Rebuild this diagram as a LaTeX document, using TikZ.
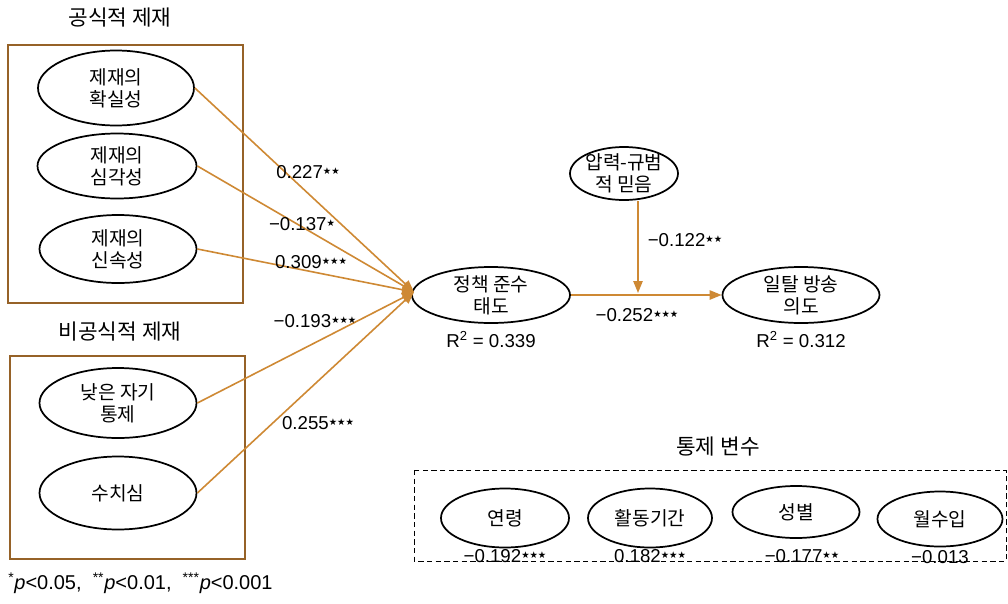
\documentclass[tikz,border=0pt]{standalone}
\usepackage{fontspec}
\setmainfont{Liberation Sans}
\newfontfamily\kr{Noto Sans CJK KR}
\newfontfamily\dv{DejaVu Sans}
\newcommand{\sg}{\raisebox{2.6pt}{\dv\fontsize{7}{7}\selectfont ★}}
\usetikzlibrary{shapes.geometric,arrows.meta}
\definecolor{arr}{RGB}{206,137,52}
\definecolor{frm}{RGB}{150,98,40}
\begin{document}
\begin{tikzpicture}[x=0.75pt,y=-0.75pt,
  ov/.style 2 args={ellipse, draw=black, line width=1.3pt, minimum width=#1*0.75pt, minimum height=#2*0.75pt, inner sep=0pt},
  kt/.style={font=\kr\fontsize{14.4}{16.5}\selectfont, align=center, inner sep=0pt},
  tt/.style={font=\kr\fontsize{16}{18}\selectfont, inner sep=0pt},
  num/.style={font=\fontsize{14}{16}\selectfont, inner sep=0pt},
  frame/.style={draw=frm, line width=1.5pt},
  path/.style={draw=arr, line width=1.2pt, -{Triangle[length=9pt,width=7pt]}},
  ctrl/.style={draw=black, line width=0.7pt, dash pattern=on 4pt off 2.5pt}]
\useasboundingbox (0,0) rectangle (1008,604);

% titles
\node[tt] (t1) at (120,18) {공식적 제재};
\node[tt] (t2) at (120,332) {비공식적 제재};
\node[tt] (t3) at (718,447) {통제 변수};

% frames
\draw[frame] (8,45) rectangle (243,303);
\draw[frame] (10,356) rectangle (245,559);
\draw[ctrl] (414,470) rectangle (1006,561);

% formal sanctions
\node[ov={156}{75}, label={[kt]center:제재의\\확실성}] (e1) at (116,88) {};
\node[ov={159}{65}, label={[kt]center:제재의\\심각성}] (e2) at (117,166) {};
\node[ov={157}{68}, label={[kt]center:제재의\\신속성}] (e3) at (118,249) {};
% informal sanctions
\node[ov={157}{70}, label={[kt]center:낮은 자기\\통제}] (e4) at (118,403) {};
\node[ov={157}{73}, label={[kt]center:수치심}] (e5) at (118,493) {};

% main constructs
\node[ov={158}{56}, label={[kt]center:정책 준수\\태도}] (P) at (491,295) {};
\node[ov={108}{53}, label={[kt]center:압력-규범\\적 믿음}] (M) at (624,173.5) {};
\node[ov={157}{56}, label={[kt]center:일탈 방송\\의도}] (D) at (801,295) {};

% controls
\node[ov={128}{59}, label={[kt]center:연령}] (c1) at (505,518) {};
\node[ov={124}{59}, label={[kt]center:활동기간}] (c2) at (650,518) {};
\node[ov={127}{52}, label={[kt]center:성별}] (c3) at (796,512) {};
\node[ov={125}{55}, label={[kt]center:월수입}] (c4) at (940,519) {};

% paths
\coordinate (T) at (414,292);
\draw[path] (e1.east) -- (T);
\draw[path] (e2.east) -- (T);
\draw[path] (e3.east) -- (T);
\draw[path] (e4.east) -- (T);
\draw[path] (e5.east) -- (T);
\coordinate (J) at (638,293);
\draw[path] (P.east) -- (D.west);
\draw[path] (M.south -| J) -- (J);

% path labels
\node[num] (l1) at (308,172) {0.227\sg\sg};
\node[num] (l2) at (302,224) {−0.137\sg};
\node[num] (l3) at (311,262) {0.309\sg\sg\sg};
\node[num] (l4) at (315,321) {−0.193\sg\sg\sg};
\node[num] (l5) at (318,423) {0.255\sg\sg\sg};
\node[num] (l6) at (685,240) {−0.122\sg\sg};
\node[num] (l7) at (637,315) {−0.252\sg\sg\sg};
\node[num] (r1) at (491,340) {R\textsuperscript{2} = 0.339};
\node[num] (r2) at (801,340) {R\textsuperscript{2} = 0.312};

% control labels
\node[num] (k1) at (505,556) {−0.192\sg\sg\sg};
\node[num] (k2) at (650,556) {0.182\sg\sg\sg};
\node[num] (k3) at (802,556) {−0.177\sg\sg};
\node[num] (k4) at (940,557) {−0.013};

% footnote
\node[num, anchor=west, font=\fontsize{15}{17}\selectfont] (fn) at (8,583) {\textsuperscript{*}\textit{p}<0.05,\ \ \textsuperscript{**}\textit{p}<0.01,\ \ \textsuperscript{***}\textit{p}<0.001};
\end{tikzpicture}
\end{document}
